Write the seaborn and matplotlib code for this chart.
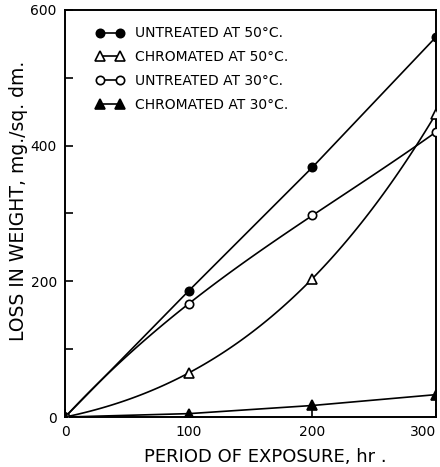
import numpy as np
import pandas as pd
import matplotlib
matplotlib.use("Agg")
import matplotlib.pyplot as plt
import seaborn as sns

# ====================================
# DATA
# ====================================

hours = [0, 100, 200, 300]

untreated_50 = [0, 186, 368, 560]
chromated_50 = [0, 65, 204, 447]
untreated_30 = [0, 167, 297, 420]
chromated_30 = [0, 5, 17, 33]

labels = [
    "UNTREATED AT 50°C.",
    "CHROMATED AT 50°C.",
    "UNTREATED AT 30°C.",
    "CHROMATED AT 30°C.",
]

x_ticks = [0, 100, 200, 300]
y_ticks = [0, 200, 400, 600]
y_minor = [100, 300, 500]

# ====================================
# PLOT
# ====================================

sns.set_theme(style="ticks")
plt.rcParams["font.family"] = ["DejaVu Sans"]
plt.rcParams["text.color"] = "black"
plt.rcParams["axes.labelcolor"] = "black"
plt.rcParams["xtick.color"] = "black"
plt.rcParams["ytick.color"] = "black"

fig = plt.figure(figsize=(4.4, 4.67), dpi=100)
ax = fig.add_axes([0.148, 0.107, 0.843, 0.872])

series = [
    (untreated_50, "o", "black", False, 6.0),
    (chromated_50, "^", "white", True, 6.8),
    (untreated_30, "o", "white", True, 6.0),
    (chromated_30, "^", "black", False, 6.8),
]

for (vals, mk, face, curved, ms), lab in zip(series, labels):
    df = pd.DataFrame({"hr": hours, "loss": vals})
    if curved:
        # smooth curve through the points, like the hand-drawn original
        sns.regplot(data=df, x="hr", y="loss", order=3, ci=None, scatter=False,
                    line_kws={"color": "black", "lw": 1.2}, ax=ax)
        sns.lineplot(data=df, x="hr", y="loss", marker=mk, markersize=ms,
                     markerfacecolor=face, markeredgecolor="black",
                     markeredgewidth=1.2, linestyle="none", color="black",
                     ax=ax, zorder=3)
    else:
        sns.lineplot(data=df, x="hr", y="loss", marker=mk, markersize=ms,
                     markerfacecolor=face, markeredgecolor="black",
                     markeredgewidth=1.2, color="black", lw=1.2,
                     ax=ax, zorder=3)

ax.set_xlim(0, 300)
ax.set_ylim(0, 600)
ax.set_xticks(x_ticks)
ax.set_yticks(y_ticks)
ax.set_yticks(y_minor, minor=True)
ax.tick_params(direction="in", length=6, width=1.2, labelsize=10, pad=6,
               colors="black")
ax.tick_params(which="minor", direction="in", length=6, width=1.2,
               colors="black")
ax.get_xticklabels()[-1].set_ha("right")
ax.get_xticklabels()[-1].set_x(300)
for s in ax.spines.values():
    s.set_linewidth(1.4)
    s.set_color("black")

ax.set_xlabel("PERIOD OF EXPOSURE, hr .", fontsize=13, color="black")
ax.set_ylabel("LOSS IN WEIGHT, mg./sq. dm.", fontsize=13.5, color="black")
ax.xaxis.set_label_coords(0.54, -0.075)
ax.yaxis.set_label_coords(-0.10, 0.53)

# legend: line with a marker at each end, no frame
handles = []
for vals, mk, face, curved, ms in series:
    h, = ax.plot([], [], marker=mk, markersize=ms, markerfacecolor=face,
                 markeredgecolor="black", markeredgewidth=1.2,
                 color="black", lw=1.2)
    handles.append(h)
leg = ax.legend(handles, labels, loc="upper left", frameon=False, numpoints=2,
                handlelength=2.0, fontsize=10, labelspacing=0.7,
                bbox_to_anchor=(0.05, 0.99))
for t in leg.get_texts():
    t.set_color("black")

fig.savefig("out.png", dpi=100)
